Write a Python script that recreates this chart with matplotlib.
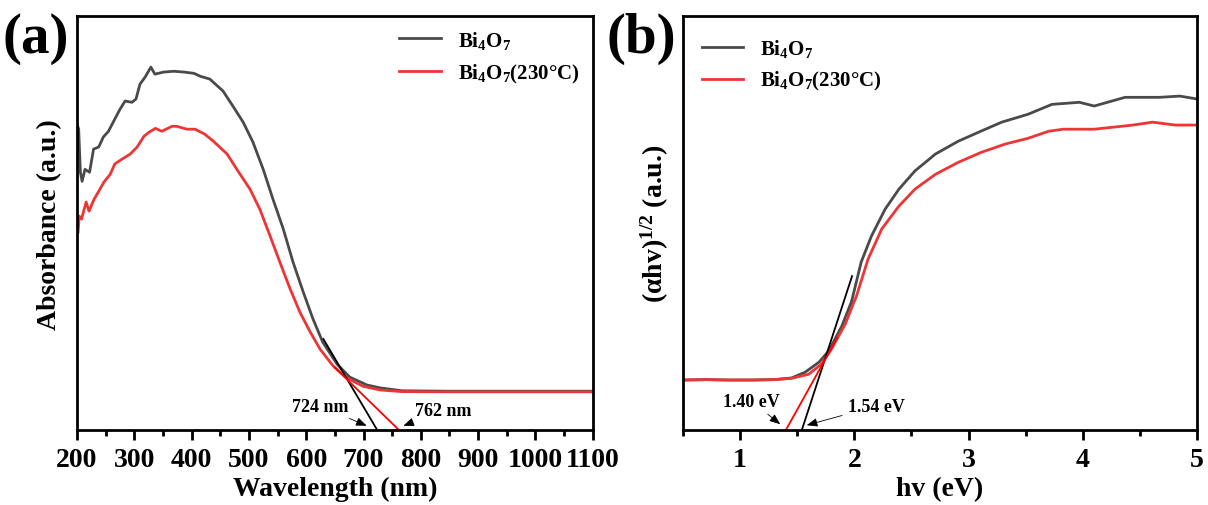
import matplotlib.pyplot as plt
from matplotlib.ticker import MultipleLocator

plt.rcParams['font.family'] = ['Liberation Serif', 'DejaVu Serif']
plt.rcParams['font.weight'] = 'bold'
plt.rcParams['axes.labelweight'] = 'bold'
plt.rcParams['mathtext.fontset'] = 'custom'
plt.rcParams['mathtext.rm'] = 'Liberation Serif:bold'
plt.rcParams['mathtext.it'] = 'Liberation Serif:bold'
plt.rcParams['mathtext.bf'] = 'Liberation Serif:bold'

GRAY = '#4a4a4a'
RED = '#ee3535'
LABELS = ['Bi$_4$O$_7$', 'Bi$_4$O$_7$(230\u00b0C)']

# (a) absorbance spectra
wl_bi = [200, 203, 206, 209, 214, 222, 229, 238, 246, 255, 264, 275, 284, 296, 303, 310, 319,
         329, 336, 351, 369, 387, 404, 415, 432, 455, 472, 490, 507, 525, 542, 560, 577, 595,
         612, 629, 654, 676, 706, 729, 767, 850, 1000, 1100]
abs_bi = [0.74, 0.727, 0.623, 0.601, 0.63, 0.623, 0.679, 0.684, 0.708, 0.722, 0.746, 0.775,
          0.795, 0.792, 0.80, 0.836, 0.853, 0.877, 0.860, 0.865, 0.867, 0.865, 0.862, 0.855,
          0.848, 0.819, 0.783, 0.744, 0.696, 0.630, 0.558, 0.486, 0.406, 0.333, 0.268, 0.212,
          0.159, 0.128, 0.109, 0.102, 0.095, 0.094, 0.094, 0.094]
wl_230 = [200, 202, 204, 208, 216, 221, 230, 238, 247, 258, 266, 279, 293, 305, 317, 326, 337,
          348, 366, 374, 392, 406, 423, 438, 462, 479, 502, 519, 537, 554, 572, 589, 607, 624,
          647, 671, 699, 729, 767, 850, 1000, 1100]
abs_230 = [0.47, 0.478, 0.517, 0.51, 0.551, 0.529, 0.558, 0.577, 0.599, 0.618, 0.643, 0.655,
           0.667, 0.684, 0.710, 0.720, 0.729, 0.722, 0.734, 0.734, 0.727, 0.727, 0.715, 0.698,
           0.667, 0.630, 0.582, 0.534, 0.469, 0.406, 0.341, 0.285, 0.237, 0.196, 0.155, 0.126,
           0.106, 0.097, 0.093, 0.0925, 0.0925, 0.0925]
tan_a_bi_x = [630, 724]
tan_a_bi_y = [0.22, 0.0]
tan_a_230_x = [650, 762]
tan_a_230_y = [0.151, 0.0]

# (b) Tauc plot
ev_bi = [0.5, 0.7, 0.9, 1.1, 1.3, 1.45, 1.57, 1.69, 1.775, 1.89, 1.976, 2.06, 2.15, 2.27, 2.39,
         2.53, 2.71, 2.91, 3.09, 3.29, 3.52, 3.73, 3.97, 4.10, 4.37, 4.67, 4.85, 5.0]
tauc_bi = [0.121, 0.122, 0.121, 0.121, 0.122, 0.126, 0.140, 0.164, 0.191, 0.251, 0.311, 0.406,
           0.469, 0.534, 0.582, 0.626, 0.667, 0.698, 0.720, 0.744, 0.763, 0.787, 0.792, 0.783,
           0.804, 0.804, 0.807, 0.800]
ev_230 = [0.5, 0.7, 0.9, 1.1, 1.3, 1.45, 1.60, 1.71, 1.80, 1.92, 2.02, 2.12, 2.24, 2.39, 2.53,
          2.71, 2.91, 3.11, 3.32, 3.52, 3.70, 3.83, 4.10, 4.44, 4.61, 4.81, 5.0]
tauc_230 = [0.121, 0.122, 0.121, 0.121, 0.122, 0.125, 0.135, 0.159, 0.196, 0.256, 0.325, 0.413,
            0.486, 0.541, 0.582, 0.618, 0.647, 0.671, 0.691, 0.705, 0.722, 0.727, 0.727, 0.737,
            0.744, 0.737, 0.737]
tan_b_bi_x = [1.54, 1.98]
tan_b_bi_y = [0.0, 0.372]
tan_b_230_x = [1.40, 1.85]
tan_b_230_y = [0.0, 0.223]

fig = plt.figure(figsize=(12.08, 5.06), dpi=100)
ax1 = fig.add_axes([0.0637, 0.148, 0.427, 0.818])
ax2 = fig.add_axes([0.5654, 0.148, 0.4255, 0.818])

ax1.plot(wl_bi, abs_bi, color=GRAY, lw=2, label=LABELS[0])
ax1.plot(wl_230, abs_230, color=RED, lw=2, label=LABELS[1])
ax1.plot(tan_a_bi_x, tan_a_bi_y, color='black', lw=1.3)
ax1.plot(tan_a_230_x, tan_a_230_y, color='red', lw=1.3)
arrow = dict(arrowstyle='-|>,head_length=0.5,head_width=0.2', color='black', lw=0.6)
ax1.annotate('724 nm', xy=(710, 0.008), xytext=(624, 0.058), fontsize=13,
             ha='center', va='center', arrowprops=arrow)
ax1.annotate('762 nm', xy=(765, 0.008), xytext=(839, 0.048), fontsize=13,
             ha='center', va='center', arrowprops=arrow)
ax1.set_xlim(200, 1100)
ax1.set_ylim(0, 1)
ax1.xaxis.set_major_locator(MultipleLocator(100))
ax1.xaxis.set_minor_locator(MultipleLocator(50))
ax1.set_xlabel('Wavelength (nm)', fontsize=20, labelpad=3)
ax1.set_ylabel('Absorbance (a.u.)', fontsize=20)
ax1.yaxis.set_label_coords(-0.028, 0.5)
ax1.legend(loc='upper right', frameon=False, fontsize=15, handlelength=2.0,
           bbox_to_anchor=(1.01, 1.015), labelspacing=0.55)

ax2.plot(ev_bi, tauc_bi, color=GRAY, lw=2, label=LABELS[0])
ax2.plot(ev_230, tauc_230, color=RED, lw=2, label=LABELS[1])
ax2.plot(tan_b_bi_x, tan_b_bi_y, color='black', lw=1.3)
ax2.plot(tan_b_230_x, tan_b_230_y, color='red', lw=1.3)
ax2.annotate('1.40 eV', xy=(1.37, 0.01), xytext=(1.10, 0.070), fontsize=13,
             ha='center', va='center', arrowprops=arrow)
ax2.annotate('1.54 eV', xy=(1.56, 0.01), xytext=(2.19, 0.058), fontsize=13,
             ha='center', va='center', arrowprops=arrow)
ax2.set_xlim(0.5, 5)
ax2.set_ylim(0, 1)
ax2.xaxis.set_major_locator(MultipleLocator(1))
ax2.xaxis.set_minor_locator(MultipleLocator(0.5))
ax2.set_xlabel('hv (eV)', fontsize=20, labelpad=3)
ax2.set_ylabel('(\u03b1hv)$^{1/2}$ (a.u.)', fontsize=20)
ax2.yaxis.set_label_coords(-0.024, 0.5)
ax2.legend(loc='upper left', frameon=False, fontsize=15, handlelength=2.0,
           bbox_to_anchor=(0.0, 0.995), labelspacing=0.5)

for ax in (ax1, ax2):
    ax.set_yticks([])
    for s in ax.spines.values():
        s.set_linewidth(2)
    ax.tick_params(axis='x', which='major', direction='out', length=7, width=2,
                   labelsize=20, pad=5)
    ax.tick_params(axis='x', which='minor', direction='out', length=4, width=2)

fig.text(0.002, 0.975, '(a)', fontsize=41, fontweight='bold', va='top')
fig.text(0.502, 0.975, '(b)', fontsize=41, fontweight='bold', va='top')

fig.savefig('out.png', dpi=100)
